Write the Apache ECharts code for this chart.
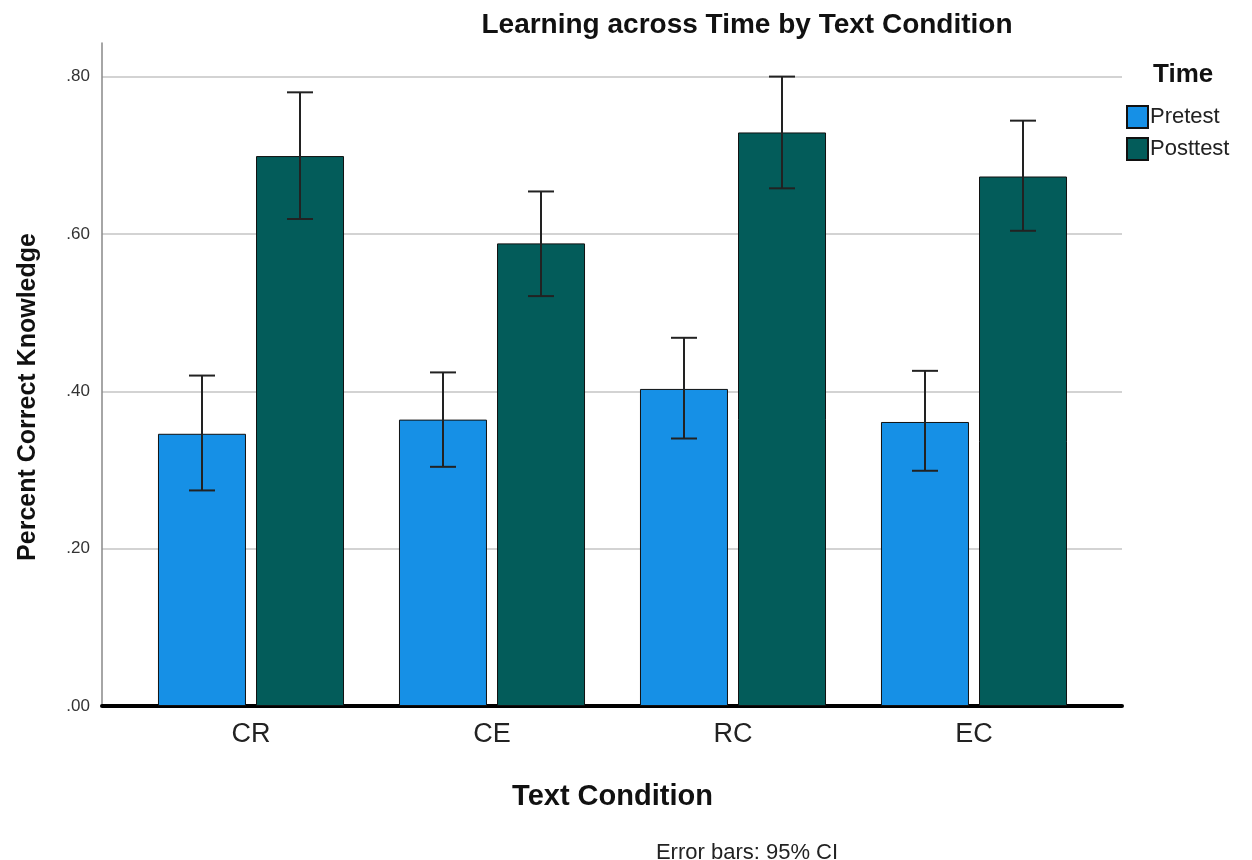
<!DOCTYPE html>
<html>
<head>
<meta charset="utf-8">
<script src="https://cdn.jsdelivr.net/npm/echarts@6/dist/echarts.min.js"></script>
<style>
  html, body { margin: 0; padding: 0; background: #fff; }
  #chart { width: 1252px; height: 860px; }
</style>
</head>
<body>
<div id="chart"></div>
<script>
var conditions = ['CR', 'CE', 'RC', 'EC'];
var pretest = [0.346, 0.364, 0.403, 0.361];
var posttest = [0.699, 0.588, 0.729, 0.673];
// 95% CI bounds
var preLow = [0.274, 0.304, 0.340, 0.299];
var preHigh = [0.420, 0.424, 0.468, 0.426];
var postLow = [0.619, 0.521, 0.658, 0.604];
var postHigh = [0.780, 0.654, 0.800, 0.744];
var yTicks = [0, 0.2, 0.4, 0.6, 0.8];

var font = "'Liberation Sans', Arial, sans-serif";
var preColor = '#1690e6';
var postColor = '#035c5a';
var yMax = 0.8427;

var chart = echarts.init(document.getElementById('chart'));

var errData = [];
for (var i = 0; i < conditions.length; i++) {
    errData.push([i, preLow[i], preHigh[i], -1]);
    errData.push([i, postLow[i], postHigh[i], 1]);
}

function fmt(v) {
    return v.toFixed(2).replace(/^0/, '');
}

var option = {
    backgroundColor: '#fff',
    animation: false,
    textStyle: { fontFamily: font },
    title: [
        {
            text: 'Learning across Time by Text Condition',
            left: 742, top: 6, textAlign: 'center',
            textStyle: { fontFamily: font, fontSize: 28, fontWeight: 'bold', color: '#111' }
        },
        {
            text: 'Time',
            left: 1148, top: 57,
            textStyle: { fontFamily: font, fontSize: 26, fontWeight: 'bold', color: '#111' }
        },
        {
            text: 'Error bars: 95% CI',
            left: 742, top: 837, textAlign: 'center',
            textStyle: { fontFamily: font, fontSize: 22, fontWeight: 'normal', color: '#222' }
        }
    ],
    graphic: [
        {
            type: 'text', x: 28, y: 397, rotation: Math.PI / 2,
            style: {
                text: 'Percent Correct Knowledge',
                font: 'bold 25px ' + font, fill: '#111',
                textAlign: 'center', textVerticalAlign: 'middle'
            }
        }
    ],
    legend: {
        orient: 'vertical',
        left: 1121, top: 100,
        itemWidth: 21, itemHeight: 22, itemGap: 8,
        icon: 'rect',
        textStyle: { fontFamily: font, fontSize: 22, color: '#222', padding: [0, 0, 0, -3] },
        data: ['Pretest', 'Posttest']
    },
    grid: [
        { left: 102, right: 130, top: 43, bottom: 154 },
        { left: 130.5, width: 964, top: 43, bottom: 154 }
    ],
    xAxis: [
        {
            gridIndex: 0, type: 'category', data: conditions,
            axisLine: { lineStyle: { color: '#000', width: 4 } },
            axisTick: { show: false }, axisLabel: { show: false }
        },
        {
            gridIndex: 1, type: 'category', data: conditions,
            name: 'Text Condition', nameLocation: 'middle', nameGap: 76,
            nameTextStyle: { fontFamily: font, fontSize: 29, fontWeight: 'bold', color: '#111' },
            axisLine: { show: false }, axisTick: { show: false },
            axisLabel: { fontFamily: font, fontSize: 27, color: '#222', margin: 15 }
        }
    ],
    yAxis: [
        {
            gridIndex: 0, type: 'value', min: 0, max: yMax, interval: 0.2,
            axisLine: { show: true, lineStyle: { color: '#888', width: 1.5 } },
            axisTick: { show: false },
            axisLabel: {
                fontFamily: font, fontSize: 17, color: '#333', margin: 12,
                showMaxLabel: false,
                formatter: function (v) { return yTicks.indexOf(Math.round(v * 10) / 10) >= 0 ? fmt(v) : ''; }
            },
            splitLine: { showMaxLine: false, lineStyle: { color: '#c4c4c4', width: 1.5 } }
        },
        {
            gridIndex: 1, type: 'value', min: 0, max: yMax, interval: 0.2, show: false,
            splitLine: { show: false }
        }
    ],
    series: [
        {
            name: 'Pretest', type: 'bar', xAxisIndex: 1, yAxisIndex: 1,
            barWidth: 88, barGap: '11.4%',
            itemStyle: { color: preColor, borderColor: '#111', borderWidth: 1 },
            data: pretest
        },
        {
            name: 'Posttest', type: 'bar', xAxisIndex: 1, yAxisIndex: 1,
            barWidth: 88, barGap: '11.4%',
            itemStyle: { color: postColor, borderColor: '#111', borderWidth: 1 },
            data: posttest
        },
        {
            type: 'custom', xAxisIndex: 1, yAxisIndex: 1, z: 10,
            data: errData,
            renderItem: function (params, api) {
                var c = api.value(0);
                var off = api.value(3) * 49;
                var lo = api.coord([c, api.value(1)]);
                var hi = api.coord([c, api.value(2)]);
                var x = lo[0] + off;
                var hw = 13;
                var st = { stroke: '#222', lineWidth: 2 };
                return {
                    type: 'group',
                    children: [
                        { type: 'line', shape: { x1: x, y1: lo[1], x2: x, y2: hi[1] }, style: st },
                        { type: 'line', shape: { x1: x - hw, y1: lo[1], x2: x + hw, y2: lo[1] }, style: st },
                        { type: 'line', shape: { x1: x - hw, y1: hi[1], x2: x + hw, y2: hi[1] }, style: st }
                    ]
                };
            }
        }
    ]
};

chart.setOption(option);
</script>
</body>
</html>
